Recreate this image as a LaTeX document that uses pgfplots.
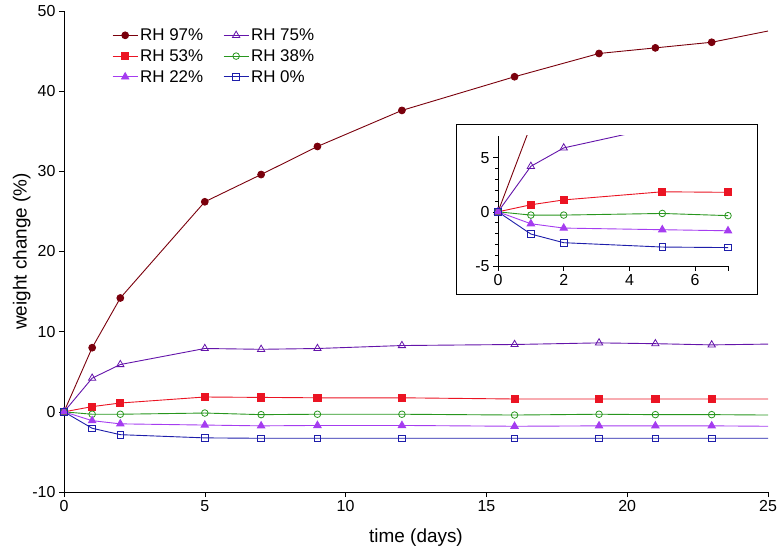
\documentclass[border=0pt]{standalone}
\usepackage{pgfplots}
\pgfplotsset{compat=1.18}
\usepackage{pgfplotstable}
\usepackage{fontspec}
\setmainfont{Liberation Sans}

\definecolor{c97}{RGB}{122,0,12}
\definecolor{c75}{RGB}{100,20,170}
\definecolor{c53}{RGB}{235,20,35}
\definecolor{c38}{RGB}{40,150,30}
\definecolor{c22}{RGB}{165,60,240}
\definecolor{c0}{RGB}{30,30,170}

\pgfplotstableread{
t    r97   r75   r53   r38    r22    r0
0    0     0     0     0      0      0
1    8.0   4.2   0.65  -0.3   -1.1   -2.05
2    14.2  5.9   1.1   -0.3   -1.5   -2.85
5    26.2  7.9   1.85  -0.15  -1.65  -3.25
7    29.6  7.8   1.8   -0.35  -1.75  -3.3
9    33.1  7.9   1.75  -0.3   -1.7   -3.3
12   37.6  8.27  1.75  -0.3   -1.7   -3.3
16   41.8  8.4   1.6   -0.4   -1.8   -3.3
19   44.7  8.6   1.6   -0.3   -1.75  -3.3
21   45.4  8.5   1.6   -0.35  -1.75  -3.3
23   46.1  8.35  1.6   -0.35  -1.75  -3.3
25   47.5  8.45  1.6   -0.4   -1.8   -3.3
}\datatable

\pgfplotsset{
  mystyle/.style={
    scale only axis,
    axis x line*=bottom,
    axis y line*=left,
    axis line style={-, line width=0.8bp},
    tick align=outside,
    major tick length=5bp,
    minor tick length=3bp,
    every tick/.style={black, line width=0.6bp},
    /pgf/number format/assume math mode=true,
    ticklabel style={font=\fontsize{16}{19}\selectfont},
    clip=true,
  },
  s97/.style={color=c97, line width=0.9bp, mark=*, mark size=3.4bp, mark options={fill=c97, draw=c97}},
  s75/.style={color=c75, line width=0.9bp, mark=triangle, mark size=4.2bp, mark options={draw=c75, fill=white, line width=0.8bp}},
  s53/.style={color=c53, line width=0.9bp, mark=square*, mark size=3.6bp, mark options={fill=c53, draw=c53}},
  s38/.style={color=c38, line width=0.9bp, mark=o, mark size=3.3bp, mark options={draw=c38, line width=0.8bp}},
  s22/.style={color=c22, line width=0.9bp, mark=triangle*, mark size=4.2bp, mark options={fill=c22, draw=c22}},
  s0/.style={color=c0, line width=0.9bp, mark=square, mark size=3.3bp, mark options={draw=c0, line width=0.8bp}},
}

\begin{document}
\begin{tikzpicture}
\begin{axis}[
  mystyle,
  at={(0bp,0bp)}, anchor=south west,
  width=704bp, height=481bp,
  xmin=0, xmax=25, ymin=-10, ymax=50,
  xtick={0,5,10,15,20,25},
  ytick={-10,0,10,20,30,40,50},
  xlabel={time (days)},
  ylabel={weight change (\%)},
  label style={font=\fontsize{19}{22}\selectfont},
  xlabel style={yshift=-10bp},
  ylabel style={yshift=-5bp},
  legend columns=2,
  legend style={draw=none, fill=none, at={(0.064,0.972)}, anchor=north west,
    font=\fontsize{17}{20}\selectfont, row sep=3.5bp,
    /tikz/every even column/.append style={column sep=18bp}},
  legend cell align=left,
  legend image code/.code={
    \draw[mark indices={2}] plot coordinates {(0bp,0bp) (12.5bp,0bp) (25bp,0bp)};
  },
]
\addplot[s97, mark indices={1,2,3,4,5,6,7,8,9,10,11}] table[x=t, y=r97] {\datatable};
\addlegendentry{RH 97\%}
\addplot[s75, mark indices={1,2,3,4,5,6,7,8,9,10,11}] table[x=t, y=r75] {\datatable};
\addlegendentry{RH 75\%}
\addplot[s53, mark indices={1,2,3,4,5,6,7,8,9,10,11}] table[x=t, y=r53] {\datatable};
\addlegendentry{RH 53\%}
\addplot[s38, mark indices={1,2,3,4,5,6,7,8,9,10,11}] table[x=t, y=r38] {\datatable};
\addlegendentry{RH 38\%}
\addplot[s22, mark indices={1,2,3,4,5,6,7,8,9,10,11}] table[x=t, y=r22] {\datatable};
\addlegendentry{RH 22\%}
\addplot[s0, mark indices={1,2,3,4,5,6,7,8,9,10,11}] table[x=t, y=r0] {\datatable};
\addlegendentry{RH 0\%}
\end{axis}

\draw[black, line width=0.9bp, fill=white] (392bp,198bp) rectangle (693bp,368bp);

\begin{axis}[
  mystyle,
  at={(434bp,226bp)}, anchor=south west,
  width=230bp, height=130bp,
  xmin=0, xmax=7, ymin=-5, ymax=7,
  xtick={0,2,4,6},
  extra x ticks={7}, extra x tick labels={},
  ytick={-5,0,5},
  minor y tick num=4,
]
\addplot[s97] table[x=t, y=r97] {\datatable};
\addplot[s75] table[x=t, y=r75] {\datatable};
\addplot[s53] table[x=t, y=r53] {\datatable};
\addplot[s38] table[x=t, y=r38] {\datatable};
\addplot[s22] table[x=t, y=r22] {\datatable};
\addplot[s0] table[x=t, y=r0] {\datatable};
\end{axis}

\pgfresetboundingbox
\path (-64bp,-56bp) rectangle (716bp,492bp);
\end{tikzpicture}
\end{document}
